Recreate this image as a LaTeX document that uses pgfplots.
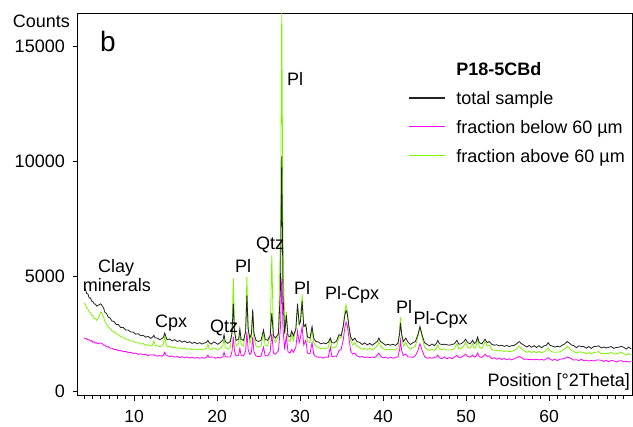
\documentclass[border=0pt]{standalone}
\usepackage{fontspec}
\setmainfont{Liberation Sans}
\usepackage{pgfplots}
\usepackage{pgfplotstable}
\pgfplotsset{compat=1.18}

\definecolor{colTot}{RGB}{35,35,35}
\definecolor{colBelow}{RGB}{255,0,255}
\definecolor{colAbove}{RGB}{125,245,0}

% 2theta, total sample, fraction below 60um, fraction above 60um
\pgfplotstableread{
x t b a
4.00 4480 2310 3820
4.15 4420 2270 3760
4.30 4230 2280 3610
4.45 4220 2220 3560
4.60 4040 2230 3440
4.75 4050 2170 3420
4.90 3900 2190 3280
5.05 3890 2110 3270
5.20 3780 2140 3150
5.35 3780 2080 3150
5.50 3690 2100 3070
5.65 3730 2050 3130
5.80 3740 2070 3240
5.95 3790 2090 3410
6.05 3760 2080 3440
6.20 3680 2050 3330
6.35 3590 1990 3180
6.50 3420 2000 3010
6.70 3360 1910 2910
6.90 3210 1930 2770
7.10 3180 1860 2730
7.35 3040 1860 2610
7.60 3020 1800 2580
7.85 2890 1810 2480
8.10 2890 1750 2460
8.40 2760 1760 2360
8.70 2760 1710 2340
9.00 2650 1720 2250
9.30 2650 1670 2250
9.60 2560 1680 2170
9.90 2560 1630 2170
10.2 2470 1650 2100
10.5 2490 1590 2100
10.8 2400 1620 2040
11.1 2420 1570 2060
11.4 2340 1590 1990
11.7 2370 1540 2010
12.0 2290 1570 1950
12.2 2330 1560 1990
12.4 2420 1580 2180
12.55 2300 1540 1980
12.8 2300 1510 1970
13.1 2230 1540 1920
13.4 2290 1510 1970
13.55 2340 1560 2050
13.7 2520 1680 2380
13.85 2350 1570 2080
14.0 2230 1540 1920
14.3 2260 1490 1940
14.6 2180 1520 1880
14.9 2230 1470 1910
15.2 2150 1500 1850
15.5 2190 1450 1880
15.8 2120 1490 1830
16.1 2170 1440 1860
16.4 2100 1480 1810
16.7 2140 1430 1840
17.0 2070 1470 1800
17.3 2120 1420 1830
17.6 2050 1460 1790
17.9 2100 1420 1820
18.2 2040 1450 1780
18.5 2090 1420 1830
18.75 2120 1470 1860
18.9 2200 1560 2040
19.05 2100 1460 1840
19.3 2040 1470 1800
19.6 2130 1480 1880
19.8 2100 1420 1840
20.1 2030 1460 1790
20.4 2110 1430 1850
20.7 2200 1500 1960
20.85 2450 1680 2250
21.0 2150 1490 1880
21.3 2070 1480 1820
21.6 2150 1480 1880
21.8 2500 1700 2700
21.97 3800 2350 4900
22.1 2600 1750 2800
22.3 2200 1520 1950
22.6 2250 1550 2050
22.75 2700 1850 2550
22.9 2250 1560 2050
23.2 2200 1520 1950
23.45 2600 1750 2700
23.6 4150 2550 4950
23.75 2700 1800 2800
23.95 2300 1580 2050
24.15 2500 1700 2300
24.3 3550 2350 3450
24.45 2500 1700 2300
24.7 2200 1520 1950
25.0 2150 1490 1900
25.3 2200 1510 1950
25.6 2650 1900 2500
25.8 2250 1540 2000
26.1 2200 1520 1950
26.4 2400 1700 2400
26.6 3400 2500 5900
26.8 2400 1650 2300
27.05 2300 1600 2100
27.4 2500 1750 2400
27.65 4500 2800 7000
27.8 10200 4900 16800
27.95 4200 2700 6500
28.15 2500 1800 2500
28.35 3300 2400 3450
28.55 2400 1700 2200
28.8 2350 1650 2150
29.0 2600 1800 2450
29.2 2400 1680 2200
29.5 2700 1900 2700
29.7 3800 2600 3600
29.9 2900 2100 2900
30.05 3000 2300 3100
30.25 3900 2800 4200
30.45 2800 2000 2800
30.7 2900 2200 2800
30.9 2350 1650 2150
31.2 2300 1620 2100
31.45 2800 2100 2700
31.65 2300 1600 2100
31.9 2150 1500 1950
32.2 2130 1460 1900
32.5 2050 1480 1840
32.8 2090 1430 1860
33.1 2050 1480 1830
33.4 2120 1460 1900
33.65 2300 1900 2250
33.85 2100 1480 1870
34.1 2090 1520 1880
34.4 2170 1500 1950
34.7 2450 1750 2350
34.95 2400 1800 2300
35.2 2800 2200 2800
35.4 3300 2750 3450
35.55 3500 3000 3750
35.7 3350 2850 3500
35.9 2800 2300 2700
36.1 2350 1750 2200
36.35 2200 1600 2000
36.6 2300 1650 2100
36.85 2150 1530 1950
37.2 2110 1470 1880
37.5 2020 1500 1810
37.8 2090 1450 1860
38.1 2000 1480 1800
38.4 2070 1450 1850
38.7 1990 1480 1790
39.0 2070 1450 1860
39.3 2150 1550 1950
39.5 2300 1650 2150
39.7 2150 1520 1950
40.0 2080 1440 1850
40.3 1990 1470 1780
40.6 2030 1420 1810
40.9 1990 1470 1790
41.2 2030 1420 1810
41.5 1980 1460 1780
41.8 2080 1480 1870
42.0 2500 1800 2600
42.1 2950 2200 3200
42.25 2450 1750 2400
42.45 2150 1540 1950
42.75 2300 1600 2100
43.0 2130 1480 1920
43.3 2020 1480 1820
43.6 2100 1460 1890
43.9 2150 1530 1950
44.2 2450 1750 2350
44.45 2800 2050 2750
44.7 2450 1780 2350
45.0 2100 1500 1900
45.3 2030 1420 1810
45.6 1960 1450 1760
45.9 2040 1420 1820
46.2 1970 1460 1760
46.45 2080 1480 1870
46.6 2200 1560 2000
46.8 2050 1450 1830
47.1 2020 1400 1790
47.4 2030 1480 1830
47.7 2010 1400 1780
48.0 1990 1460 1780
48.3 2020 1400 1790
48.6 2050 1470 1850
48.9 2200 1550 2050
49.15 2030 1450 1830
49.45 2060 1470 1860
49.75 2150 1540 1980
49.95 2250 1600 2100
50.2 2100 1500 1900
50.5 2050 1470 1860
50.8 2200 1560 2050
51.0 2060 1470 1860
51.2 2120 1500 1920
51.4 2350 1650 2250
51.6 2100 1490 1900
51.9 2050 1460 1850
52.1 2150 1520 1980
52.3 2250 1600 2150
52.55 2100 1500 1950
52.8 2150 1530 2000
53.1 2030 1400 1800
53.4 1990 1450 1770
53.7 2010 1380 1760
54.0 1960 1430 1740
54.3 1990 1370 1750
54.6 1940 1410 1720
54.9 1980 1360 1740
55.2 1930 1400 1710
55.5 1970 1350 1730
55.8 1980 1400 1760
56.1 2050 1450 1830
56.4 2150 1500 1950
56.7 2050 1450 1840
57.0 1990 1370 1750
57.3 1910 1390 1680
57.6 1980 1360 1730
57.9 1900 1380 1670
58.2 1970 1350 1720
58.5 1890 1380 1660
58.8 1970 1350 1720
59.1 1880 1370 1650
59.4 1960 1340 1710
59.7 1990 1400 1770
59.9 2100 1450 1880
60.1 1990 1390 1760
60.4 1950 1330 1700
60.7 1910 1380 1680
61.0 1940 1320 1690
61.3 1920 1380 1690
61.6 1990 1390 1760
61.9 2050 1420 1830
62.2 2150 1480 1930
62.45 2080 1440 1860
62.7 2000 1400 1760
63.0 1970 1340 1720
63.3 1880 1360 1640
63.6 1960 1320 1700
63.9 1930 1380 1690
64.2 1930 1310 1670
64.5 1860 1340 1620
64.8 1930 1300 1670
65.1 1850 1330 1610
65.4 1930 1300 1670
65.7 1940 1340 1690
66.0 1960 1350 1710
66.3 1870 1330 1620
66.6 1910 1280 1640
66.9 1870 1330 1620
67.2 1900 1270 1630
67.5 1930 1330 1680
67.8 1850 1310 1600
68.1 1890 1260 1620
68.4 1900 1300 1640
68.7 1940 1320 1690
69.0 1900 1260 1620
69.3 1820 1290 1560
69.6 1910 1260 1630
69.9 1830 1280 1560
}\xrd

\begin{document}
\begin{tikzpicture}
\useasboundingbox (-78pt,-31pt) rectangle (555pt,396pt);
\begin{axis}[
  at={(0pt,0pt)}, anchor=south west,
  scale only axis, width=554pt, height=382pt,
  xmin=3.25, xmax=70, ymin=-220, ymax=16400,
  xtick={10,20,...,60}, minor xtick={4,5,...,69},
  ytick={0,5000,10000,15000},
  xtick pos=bottom, ytick pos=left,
  tick align=outside,
  major tick length=5pt, minor tick length=3pt,
  tick style={black, line width=0.7pt},
  axis line style={line width=1pt},
  scaled y ticks=false,
  /pgf/number format/1000 sep={},
  /pgf/number format/assume math mode=true,
  yticklabel style={font=\fontsize{18}{20}\selectfont, inner sep=0pt, anchor=east, xshift=-8pt},
  xticklabel style={font=\fontsize{17.5}{19}\selectfont, inner sep=0pt, anchor=north, yshift=-9pt},
  legend cell align=left,
  legend style={at={(0.5957,0.8704)}, anchor=north west, draw=none, fill=none,
    inner sep=0pt, outer sep=0pt, row sep=12.2pt, column sep=11pt,
    nodes={inner sep=0pt, text height=12.5pt, text depth=4pt,
      font=\fontsize{18}{20}\selectfont}},
  every axis plot/.append style={line width=0.8pt},
]
\addlegendimage{empty legend}
\addlegendentry{\textbf{P18-5CBd}}
\addlegendimage{legend image code/.code={\draw[colTot, line width=1.3pt] (0pt,2.5pt) -- (36pt,2.5pt);}}
\addlegendentry{total sample}
\addlegendimage{legend image code/.code={\draw[colBelow, line width=1.3pt] (0pt,2.5pt) -- (36pt,2.5pt);}}
\addlegendentry{fraction below 60 µm}
\addlegendimage{legend image code/.code={\draw[colAbove, line width=1.3pt] (0pt,2.5pt) -- (36pt,2.5pt);}}
\addlegendentry{fraction above 60 µm}

\addplot[color=colAbove, forget plot] table[x=x, y=a] {\xrd};
\addplot[color=colBelow, forget plot] table[x=x, y=b] {\xrd};
\addplot[color=colTot, forget plot] table[x=x, y=t] {\xrd};

\begin{scope}[every node/.style={font=\fontsize{18}{20}\selectfont, inner sep=0pt, anchor=base west}]
\node at (rel axis cs:0.0361,0.3228) {Clay};
\node at (rel axis cs:0.0085,0.2730) {minerals};
\node at (rel axis cs:0.1390,0.1798) {Cpx};
\node at (rel axis cs:0.2383,0.1657) {Qtz};
\node at (rel axis cs:0.2834,0.3238) {Pl};
\node at (rel axis cs:0.3213,0.3822) {Qtz};
\node at (rel axis cs:0.3773,0.8141) {Pl};
\node at (rel axis cs:0.3899,0.2644) {Pl};
\node at (rel axis cs:0.4458,0.2513) {Pl-Cpx};
\node at (rel axis cs:0.5740,0.2147) {Pl};
\node at (rel axis cs:0.6053,0.1859) {Pl-Cpx};
\end{scope}
\node[font=\fontsize{28}{30}\selectfont, inner sep=0pt, anchor=base west] at (rel axis cs:0.0397,0.9031) {b};
\node[font=\fontsize{18}{20}\selectfont, inner sep=0pt, anchor=base east] at (rel axis cs:0.9964,0.0236) {Position [°2Theta]};
\end{axis}
\node[font=\fontsize{18}{20}\selectfont, inner sep=0pt, anchor=base east] at (-8pt,368pt) {Counts};
\end{tikzpicture}
\end{document}
